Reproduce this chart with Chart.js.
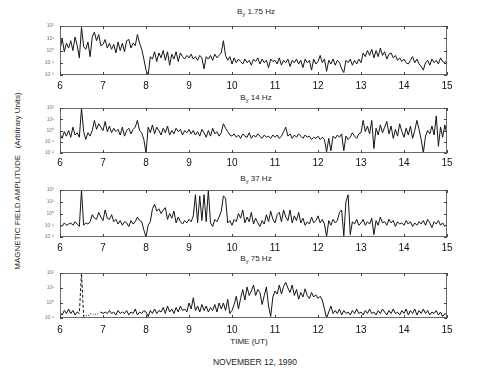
<!DOCTYPE html>
<html><head><meta charset="utf-8">
<script src="https://cdn.jsdelivr.net/npm/chart.js@4"></script>
<style>
body{margin:0;background:#fff;width:497px;height:383px;overflow:hidden;position:relative;font-family:"Liberation Sans",Arial,sans-serif;color:#1e1e1e}
canvas{position:absolute;left:0}
.t{position:absolute;white-space:nowrap;transform:translate(-50%,-50%);line-height:1}
.t sub{font-size:70%;vertical-align:-2px}
.yl{position:absolute;left:18px;top:181px;font-size:8px;white-space:nowrap;transform:translate(-50%,-50%) rotate(-90deg);line-height:1}
</style></head><body>
<div class="t" style="left:256px;top:13px;font-size:8px">B<sub>y</sub> 1.75 Hz</div>
<div class="t" style="left:256px;top:99px;font-size:8px">B<sub>y</sub> 14 Hz</div>
<div class="t" style="left:256px;top:180px;font-size:8px">B<sub>y</sub> 37 Hz</div>
<div class="t" style="left:256px;top:260px;font-size:8px">B<sub>y</sub> 75 Hz</div>
<div class="yl">MAGNETIC FIELD AMPLITUDE &nbsp;&nbsp;(Arbitrary Units)</div>
<div class="t" style="left:249px;top:342px;font-size:8px">TIME (UT)</div>
<div class="t" style="left:255px;top:362px;font-size:8.5px">NOVEMBER 12, 1990</div>
<canvas id="c1"></canvas><canvas id="c2"></canvas><canvas id="c3"></canvas><canvas id="c4"></canvas>
<script>
// time axis (UT hours)
const hourTicks = [6,7,8,9,10,11,12,13,14,15];
const startHour = 6, stepHour = 0.05;

// log-amplitude tick labels
const yLabels1 = ['10\u207B\u00B2','10\u207B\u00B9','10\u2070','10\u00B9','10\u00B2'];
const yLabels2 = ['10\u207B\u00B2','10\u207B\u00B9','10\u2070','10\u00B9','10\u00B2'];
const yLabels3 = ['10\u207B\u00B2','10\u207B\u00B9','10\u2070','10\u00B9','10\u00B2'];
const yLabels4 = ['10\u207B\u00B9','10\u2070','10\u00B9','10\u00B2'];

// By 1.75 Hz (one value every 0.05 h from 6.00 to 15.00 UT)
const by175 = [
2.0,3.0,1.9,2.6,2.2,2.8,2.0,3.1,2.4,1.4,3.9,2.3,2.1,2.7,1.5,3.1,3.5,2.8,3.3,2.4,
2.5,2.9,2.2,2.6,2.1,2.5,1.8,2.7,2.0,2.6,1.9,2.8,2.9,2.2,2.6,2.4,3.3,2.6,2.1,1.3,
0.4,0.0,1.5,1.3,1.9,1.1,1.8,1.4,2.0,1.2,1.9,0.8,1.7,1.3,1.9,1.1,1.8,1.5,1.3,1.6,
1.4,1.7,1.3,1.5,1.2,1.6,1.4,0.5,1.5,1.3,1.6,1.2,1.7,1.4,1.6,1.8,2.8,1.6,1.2,1.5,
0.9,1.4,1.0,1.3,1.1,0.9,1.3,1.0,1.2,0.8,1.3,1.1,1.4,0.9,1.3,1.0,1.2,0.6,1.3,1.1,
1.2,0.9,1.4,0.8,1.2,1.0,1.3,0.7,1.2,1.0,1.3,0.9,1.2,0.6,1.3,1.0,1.2,0.4,1.3,0.9,
1.1,1.6,1.0,1.3,0.3,1.2,0.9,1.3,0.8,1.2,1.0,0.5,0.2,1.2,1.0,1.3,0.8,1.2,0.9,1.3,
1.0,1.8,1.5,2.0,1.6,2.1,1.4,2.0,1.5,2.2,1.6,1.9,1.3,1.7,1.8,1.4,1.6,1.2,1.4,1.1,
1.3,1.0,0.9,1.2,1.5,1.0,1.3,0.9,0.7,0.4,1.0,1.2,0.8,1.3,1.0,1.2,0.9,1.4,1.1,1.0,
1.2];

// By 14 Hz
const by14 = [
1.7,1.3,1.9,1.5,2.0,1.4,2.3,1.6,1.8,1.4,4.0,1.9,1.2,1.8,1.5,2.0,2.9,2.1,2.6,2.3,
2.0,2.8,1.9,2.4,1.8,2.2,1.9,2.1,1.6,2.3,1.5,2.0,2.2,1.7,2.1,2.3,2.9,2.0,1.8,1.2,
0.0,2.3,1.8,2.5,1.7,2.3,2.0,1.6,2.2,1.8,2.4,1.6,2.0,1.7,2.2,1.9,2.1,1.6,2.0,1.8,
2.1,1.7,2.0,1.6,1.9,1.5,2.1,1.8,1.4,2.0,1.5,2.2,1.7,1.9,1.5,1.8,2.6,2.2,1.9,1.6,
1.5,1.7,1.4,1.6,1.3,1.7,1.5,1.4,1.8,1.3,1.6,1.4,1.7,1.5,1.3,1.6,1.4,1.5,1.3,1.6,
1.4,1.6,1.3,1.5,1.9,2.3,1.5,1.7,1.3,1.6,1.4,1.7,1.5,1.3,1.6,1.4,1.5,1.2,1.4,1.3,
1.5,1.2,1.4,1.2,0.1,1.3,0.2,1.5,1.3,1.6,1.4,1.7,0.2,1.5,1.2,1.4,1.8,1.5,1.3,1.7,
1.8,2.9,1.9,2.4,1.7,2.9,0.4,2.2,1.6,2.5,1.8,2.3,2.8,1.7,2.4,1.3,2.1,1.5,2.6,1.9,
1.4,2.2,1.6,2.4,1.3,2.0,2.9,2.1,1.2,0.0,1.5,2.0,1.7,2.4,1.6,3.3,0.6,2.3,1.4,2.5,
1.6];

// By 37 Hz
const by37 = [
1.1,0.9,1.2,1.0,1.1,1.2,1.0,1.3,1.1,0.9,4.0,1.0,1.2,1.1,1.3,1.9,1.6,1.5,2.1,1.7,
1.4,2.3,1.6,1.5,1.9,1.3,1.5,1.1,1.4,1.0,1.3,1.2,0.9,1.4,1.1,1.3,1.7,1.4,1.3,0.6,
0.0,1.0,1.3,2.4,2.8,2.2,2.4,2.0,2.3,2.5,1.5,2.0,1.6,2.2,1.2,1.7,1.3,1.1,1.4,1.2,
1.5,1.3,1.8,3.6,1.2,3.5,1.4,3.6,1.3,4.0,1.2,0.9,1.5,1.3,1.7,2.2,3.5,3.3,1.2,1.4,
1.0,1.5,1.3,2.0,1.6,2.3,1.2,1.7,1.3,2.1,1.1,1.6,1.2,0.9,1.4,1.1,1.9,1.3,2.2,1.5,
1.2,1.9,2.1,1.3,2.3,1.7,1.4,2.3,1.2,1.8,1.4,2.1,1.2,1.6,1.0,1.3,1.1,1.7,1.2,1.4,
1.8,1.2,1.5,1.1,0.0,1.4,1.0,1.5,1.2,1.4,2.1,2.3,0.1,3.0,3.6,0.2,1.3,1.1,1.5,1.0,
1.2,1.5,1.0,1.3,1.1,1.6,0.2,1.4,1.0,1.7,1.2,1.3,1.0,1.5,1.2,1.4,0.9,1.3,1.1,1.2,
1.0,1.4,1.1,1.3,0.9,1.2,1.0,1.3,1.1,1.4,1.0,1.5,1.2,0.8,1.3,1.1,1.4,1.0,1.2,0.9,
1.1];

// By 75 Hz
const by75 = [
0.4,0.2,0.5,0.3,0.6,0.3,0.5,0.2,0.4,0.3,3.0,0.1,0.2,0.1,0.3,0.2,0.3,0.2,0.3,0.4,
0.3,0.4,0.3,0.5,0.3,0.4,0.2,0.5,0.3,0.4,0.3,0.5,0.2,0.4,0.3,0.6,0.2,0.4,0.3,0.5,
0.4,0.1,0.5,0.3,0.6,0.3,0.5,0.4,0.7,0.3,0.8,0.4,0.6,0.3,0.7,0.4,0.8,0.5,0.6,0.4,
1.0,0.6,1.35,0.5,0.8,0.4,0.9,0.5,0.8,0.4,0.7,0.5,0.9,0.4,1.0,0.6,1.0,0.5,1.25,0.3,
0.5,0.9,1.45,0.6,1.3,1.9,1.2,2.07,1.5,1.8,2.2,1.5,1.9,1.7,0.9,1.5,2.07,0.8,0.1,1.4,
1.8,1.6,2.2,1.6,2.1,2.38,2.0,1.7,2.2,1.5,1.9,1.25,1.7,1.4,1.95,1.5,1.3,1.7,1.4,1.55,
1.3,1.45,1.2,0.6,0.0,0.4,0.8,0.3,0.5,0.3,0.6,0.2,0.5,0.3,0.4,0.2,0.5,0.3,0.6,0.3,
0.4,0.2,0.5,0.3,0.6,0.3,0.4,0.2,0.5,0.3,0.6,0.4,0.2,0.5,0.3,0.6,0.3,0.4,0.2,0.5,
0.3,0.6,0.2,0.5,0.3,0.6,0.2,0.5,0.3,0.6,0.3,0.5,0.2,0.4,0.3,0.5,0.2,0.4,0.1,0.3,
0.2];

const framePlugin = {
  id:'frame',
  afterDraw(chart){
    const {ctx, chartArea:a, scales} = chart;
    ctx.save();
    ctx.strokeStyle = '#6a6a6a'; ctx.lineWidth = 1;
    ctx.strokeRect(Math.round(a.left)+0.5, Math.round(a.top)+0.5, Math.round(a.right-a.left)-1, Math.round(a.bottom-a.top)-1);
    ctx.strokeStyle = '#444';
    ctx.beginPath();
    scales.x.ticks.forEach(t=>{
      const px = Math.round(scales.x.getPixelForValue(t.value))+0.5;
      ctx.moveTo(px, a.bottom); ctx.lineTo(px, a.bottom-3);
      ctx.moveTo(px, a.top); ctx.lineTo(px, a.top+3);
    });
    scales.y.ticks.forEach(t=>{
      const py = Math.round(scales.y.getPixelForValue(t.value))+0.5;
      ctx.moveTo(a.left, py); ctx.lineTo(a.left+3, py);
      ctx.moveTo(a.right, py); ctx.lineTo(a.right-3, py);
    });
    ctx.stroke();
    ctx.restore();
  }
};

const PADT = 6;
function makePanel(id, frameTop, frameBottom, values, yMax, labels, xPad, dashed){
  const cv = document.getElementById(id);
  const XH = 24;
  cv.width = 497; cv.height = PADT + (frameBottom-frameTop) + XH;
  cv.style.top = (frameTop-PADT)+'px';
  const ds = {
    data: values.map((v,i)=>({x:startHour+i*stepHour, y:v})),
    borderColor:'#151515', borderWidth:1, pointRadius:0, tension:0, fill:false
  };
  if (dashed) ds.segment = {
    borderDash: c => {
      const x0 = c.p0.parsed.x, x1 = c.p1.parsed.x;
      if (x0 >= 6.39 && x1 <= 6.56) return [3,2];
      if (x0 >= 6.54 && x1 <= 6.96) return [1,2];
      return undefined;
    }
  };
  new Chart(cv, {
    type:'line',
    data:{datasets:[ds]},
    options:{
      animation:false, responsive:false, events:[],
      layout:{padding:{top:PADT,right:50,left:0,bottom:0}},
      plugins:{legend:{display:false},tooltip:{enabled:false},title:{display:false}},
      scales:{
        x:{type:'linear',min:6,max:15,
          afterBuildTicks:s=>{s.ticks = hourTicks.map(h=>({value:h}));},
          ticks:{font:{family:'"Liberation Sans", Arial, sans-serif',size:10},color:'#111',padding:xPad,maxRotation:0,autoSkip:false,callback:v=>String(v)},
          grid:{display:false,drawTicks:false}, border:{display:false},
          afterFit:s=>{s.height = XH;}},
        y:{type:'linear',min:0,max:yMax,
          afterBuildTicks:s=>{s.ticks = labels.map((l,i)=>({value:i}));},
          ticks:{font:{family:'"Liberation Sans", Arial, sans-serif',size:5},color:'#777',padding:6,autoSkip:false,callback:(v,i)=>labels[i]},
          grid:{display:false,drawTicks:false}, border:{display:false},
          afterFit:s=>{s.width = 60;}}
      }
    },
    plugins:[framePlugin]
  });
}
makePanel('c1', 23, 75, by175, 4, yLabels1, 5, false);
makePanel('c2', 105, 153, by14, 4, yLabels2, 4, false);
makePanel('c3', 187, 237, by37, 4, yLabels3, 5, false);
makePanel('c4', 270, 318, by75, 3, yLabels4, 6, true);
</script>
</body></html>
